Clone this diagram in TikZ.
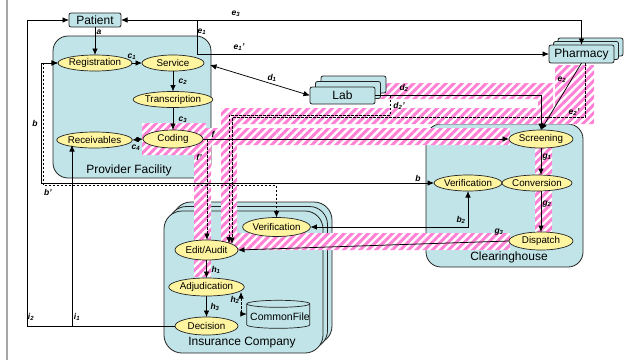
\documentclass[tikz,border=0pt]{standalone}
\usepackage{fontspec}
\setmainfont{Liberation Sans}
\usetikzlibrary{arrows.meta,patterns.meta,shapes.geometric}
\definecolor{boxblue}{RGB}{192,228,232}
\definecolor{ellyel}{RGB}{255,244,160}
\definecolor{hatch}{RGB}{255,128,212}
\definecolor{edgec}{RGB}{35,35,35}
\tikzset{
 proc/.style={ellipse, draw=edgec, line width=0.7pt, fill=ellyel, inner sep=0pt, outer sep=0pt, font=\fontsize{9.8}{10}\selectfont},
 cont/.style={rectangle, draw=edgec, line width=0.8pt, fill=boxblue, rounded corners=15pt, inner sep=0pt, outer sep=0pt},
 ent/.style={rectangle, draw=edgec, line width=0.8pt, fill=boxblue, rounded corners=2pt, inner sep=0pt, outer sep=0pt, font=\fontsize{12}{12}\selectfont},
 conn/.style={line width=0.75pt, ->},
 dconn/.style={line width=0.75pt, <->},
 dsh/.style={dash pattern=on 2.5pt off 1.5pt},
 lbl/.style={font=\fontsize{8.5}{9}\selectfont\bfseries\itshape, inner sep=0pt},
 big/.style={font=\fontsize{12}{12}\selectfont, inner sep=0pt},
 hatchfill/.style={pattern={Lines[angle=45,distance=5.7pt,line width=3pt]}, pattern color=hatch}
}
\begin{document}
\begin{tikzpicture}[x=1pt,y=-1pt,>={Latex[length=6.5pt,width=5.5pt]}]
\useasboundingbox (0,0) rectangle (630,360);
\fill[white] (0,0) rectangle (630,360);
\draw[gray!70, line width=1.5pt] (7,0) -- (7,360);

% containers
\node[cont, minimum width=158pt, minimum height=142pt] (pf) at (132,107) {};
\node[cont, minimum width=157pt, minimum height=143pt] (ch) at (504.5,195.5) {};
\node[cont, rounded corners=18pt, minimum width=159pt, minimum height=142pt] (ins3) at (252.5,273) {};
\node[cont, rounded corners=18pt, minimum width=159pt, minimum height=142pt] (ins2) at (248,277.5) {};
\node[cont, rounded corners=18pt, minimum width=159pt, minimum height=142pt] (ins) at (243.5,282) {};

% hatched bands
\def\bands{(142,123) rectangle (206,155)
 (206,128) rectangle (510,145)
 (194,145) rectangle (211,277)
 (221,108) rectangle (237,246)
 (221,108) rectangle (594,124)
 (375,83) rectangle (553,99)
 (538,83) rectangle (553,124)
 (555,65) rectangle (594,124)
 (535,148) rectangle (552,175)
 (535,191) rectangle (552,232)
 (225,233) rectangle (510,250)}
\fill[white] \bands;
\fill[hatchfill] \bands;

% entities
\node[ent, minimum width=65pt, minimum height=17pt] (lab3) at (353.5,84.5) {};
\node[ent, minimum width=65pt, minimum height=17pt] (lab2) at (348,90) {};
\node[ent, minimum width=65pt, minimum height=17pt] (lab) at (342.5,95.5) {Lab};
\node[ent, minimum width=65pt, minimum height=18pt] (pharm3) at (590.5,47) {};
\node[ent, minimum width=65pt, minimum height=18pt] (pharm2) at (586,50.5) {};
\node[ent, minimum width=65pt, minimum height=18pt] (pharm) at (581.5,54) {Pharmacy};
\node[ent, minimum width=52pt, minimum height=14pt] (pat) at (95,20) {Patient};

% processes
\node[proc, minimum width=64pt, minimum height=16pt] (reg) at (95,63) {Registration};
\node[proc, minimum width=62pt, minimum height=16pt] (serv) at (173,63) {Service};
\node[proc, minimum width=62pt, minimum height=16pt] (trans) at (173,99.5) {Transcription};
\node[proc, minimum width=60pt, minimum height=18pt] (cod) at (173,139) {Coding};
\node[proc, minimum width=65pt, minimum height=16pt] (recv) at (94.5,140) {Receivables};
\node[proc, minimum width=64pt, minimum height=18pt] (scr) at (541,139) {Screening};
\node[proc, minimum width=58pt, minimum height=16pt] (conv) at (537,183) {Conversion};
\node[proc, minimum width=64pt, minimum height=18pt] (disp) at (541,241) {Dispatch};
\node[proc, minimum width=64pt, minimum height=16pt] (verch) at (468,183) {Verification};
\node[proc, minimum width=64pt, minimum height=19pt] (veri) at (276.5,227) {Verification};
\node[proc, minimum width=63pt, minimum height=20pt] (edit) at (206.5,250) {Edit/Audit};
\node[proc, minimum width=63pt, minimum height=18pt] (adj) at (206.5,287) {Adjudication};
\node[proc, minimum width=63pt, minimum height=18pt] (dec) at (206.5,326) {Decision};

% common file cylinder
\node[rectangle, minimum width=63pt, minimum height=28pt, inner sep=0pt] (cf) at (278.5,314) {};
\filldraw[fill=boxblue, draw=edgec, line width=0.7pt]
  (cf.north west) ++(0,4) -- ++(0,21) arc[start angle=180, end angle=360, x radius=31.5, y radius=-3.5]
  -- ++(0,-21) arc[start angle=0, end angle=180, x radius=31.5, y radius=-3.5] -- cycle;
\draw[edgec, line width=0.7pt] (cf.north west) ++(0,4) arc[start angle=180, end angle=360, x radius=31.5, y radius=-3.5];
\node[inner sep=0pt, font=\fontsize{10.5}{11}\selectfont] (cft) at (280,317) {CommonFile};

% container labels
\node[big] (pft) at (129,170) {Provider Facility};
\node[big] (cht) at (509,257) {Clearinghouse};
\node[big] (inst) at (242,343) {Insurance Company};

% coordinates
\coordinate (e1top) at (197,20);
\coordinate (d1s) at (210,65);
\coordinate (bcorner) at (41,183);
\coordinate (bpc) at (43.5,185.5);
\coordinate (fps) at (207,139);
\coordinate (d2ps) at (390,95.5);
\coordinate (d2pc) at (390,115);
\coordinate (d2pe) at (229,243.5);
\coordinate (e2ps) at (585,63);
\coordinate (e2pc) at (585,117.5);
\coordinate (e2pe) at (232,244);
\coordinate (h2a) at (241,292);
\coordinate (h2b) at (241,314);
\coordinate (i1c) at (72,326);
\coordinate (i1e) at (72,145);
\coordinate (i2c) at (27,326);

% connectors
\draw[conn] (pat.south) -- (reg.north);
\draw[conn] (reg.east) -- (serv.west);
\draw[conn] (serv.south) -- (trans.north);
\draw[conn] (trans.south) -- (cod.north);
\draw[dconn] (cod.west) -- (recv.east);
\draw[dconn] (pat.east) -| (pharm.north);
\draw[conn] (e1top) |- (pharm.west);
\draw[dconn] (d1s) -- (lab.west);
\draw[dconn] (reg.west) -| (bcorner) -- (verch.west);
\draw[dconn, dsh] (reg.west) -| (bpc) -| (veri.north);
\draw[dconn] (veri.east) -| (verch.south);
\draw[conn] (cod.east) -- (scr.west);
\draw[conn, dsh] (fps) -- (fps |- edit.north);
\draw[conn] (lab.east) -| (scr.north);
\draw[conn, dsh] (d2ps) -- (d2pc) -| (d2pe);
\draw[conn] (pharm.south) -- (scr.north);
\draw[conn, dsh] (e2ps) -- (e2pc) -| (e2pe);
\draw[conn] (scr.south) -- (scr.south |- conv.north);
\draw[conn] (conv.south -| scr.south) -- (disp.north);
\draw[conn] (disp.west) -- (edit.east);
\draw[conn] (edit.south) -- (adj.north);
\draw[conn] (adj.south) -- (dec.north);
\draw[dconn, dsh] (h2a) -- (h2b) -- (cf.west |- h2b);
\draw[conn] (dec.west) -- (i1c) -- (i1e);
\draw[conn] (dec.west) -- (i2c) |- (pat.west);

% labels
\node[lbl] (la) at (99,32) {a};
\node[lbl] (lc1) at (132,57) {c\textsubscript{1}};
\node[lbl] (lc2) at (183,82) {c\textsubscript{2}};
\node[lbl] (lc3) at (183,120) {c\textsubscript{3}};
\node[lbl] (lc4) at (136,148) {c\textsubscript{4}};
\node[lbl] (le1) at (202,32) {e\textsubscript{1}};
\node[lbl] (le3) at (236,14) {e\textsubscript{3}};
\node[lbl] (le1p) at (239,47) {e\textsubscript{1}'};
\node[lbl] (ld1) at (272,78) {d\textsubscript{1}};
\node[lbl] (ld2) at (404,88) {d\textsubscript{2}};
\node[lbl] (ld2p) at (399,106) {d\textsubscript{2}'};
\node[lbl] (le2) at (562,80) {e\textsubscript{2}};
\node[lbl] (le2p) at (574,112) {e\textsubscript{2}'};
\node[lbl] (lf) at (213,134) {f};
\node[lbl] (lfp) at (199,157) {f'};
\node[lbl] (lb1) at (35,123) {b};
\node[lbl] (lb2) at (418,178) {b};
\node[lbl] (lbp) at (48,192) {b'};
\node[lbl] (lb2s) at (461,220) {b\textsubscript{2}};
\node[lbl] (lg1) at (547,157) {g\textsubscript{1}};
\node[lbl] (lg2) at (547,204) {g\textsubscript{2}};
\node[lbl] (lg3) at (499,232) {g\textsubscript{3}};
\node[lbl] (lh1) at (216,270) {h\textsubscript{1}};
\node[lbl] (lh2) at (235,300) {h\textsubscript{2}};
\node[lbl] (lh3) at (215,307) {h\textsubscript{3}};
\node[lbl] (li1) at (77,317) {i\textsubscript{1}};
\node[lbl] (li2) at (31,317) {i\textsubscript{2}};
\end{tikzpicture}
\end{document}
